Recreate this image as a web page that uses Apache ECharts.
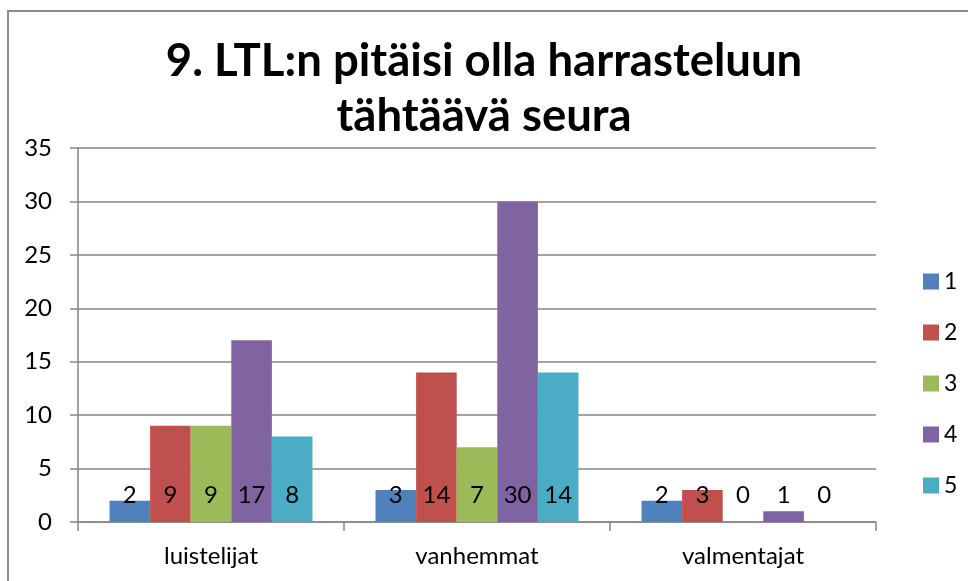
<!DOCTYPE html>
<html>
<head>
<meta charset="utf-8">
<script src="https://cdn.jsdelivr.net/npm/echarts@6/dist/echarts.min.js"></script>
<style>
    html, body { margin: 0; padding: 0; background: #fff; }
    #chart { width: 968px; height: 581px; }
</style>
</head>
<body>
<div id="chart"></div>
<script>
// kategoriat ja sarjat
var categories = ['luistelijat', 'vanhemmat', 'valmentajat'];
var seriesNames = ['1', '2', '3', '4', '5'];
var s1 = [2, 3, 2];
var s2 = [9, 14, 3];
var s3 = [9, 7, 0];
var s4 = [17, 30, 1];
var s5 = [8, 14, 0];
var yTicks = [0, 5, 10, 15, 20, 25, 30, 35];

var colors = ['#4F81BD', '#C0504D', '#9BBB59', '#8064A2', '#4BACC6'];
var font = 'Lato, "Open Sans", sans-serif';

var chart = echarts.init(document.getElementById('chart'));

function makeSeries(name, data) {
    return {
        name: name,
        type: 'bar',
        barGap: '0%',
        barCategoryGap: '23.7%',
        label: {
            show: true,
            position: 'insideBottom',
            distance: 15,
            color: '#000',
            fontSize: 24,
            lineHeight: 24,
            fontFamily: font
        },
        data: data
    };
}

var option = {
    color: colors,
    animation: false,
    title: {
        text: '9. LTL:n pitäisi olla harrasteluun\ntähtäävä seura',
        left: 'center',
        top: 29,
        padding: [5, 5, 5, 23],
        textStyle: {
            fontSize: 45.5,
            fontWeight: 'bold',
            fontFamily: font,
            color: '#000',
            lineHeight: 55
        }
    },
    legend: {
        orient: 'vertical',
        left: 918,
        top: 265,
        itemWidth: 16,
        itemHeight: 16,
        itemGap: 28,
        itemTextGap: 7,
        icon: 'rect',
        textStyle: { fontSize: 23, lineHeight: 20, color: '#000', fontFamily: font },
        data: seriesNames
    },
    grid: {
        left: 78,
        right: 92,
        top: 148,
        bottom: 59
    },
    xAxis: {
        type: 'category',
        data: categories,
        axisLine: { lineStyle: { color: '#868686', width: 1.5 } },
        axisTick: { show: true, length: 9, lineStyle: { color: '#868686', width: 1.5 } },
        axisLabel: { margin: 22, fontSize: 24, color: '#000', fontFamily: font }
    },
    yAxis: {
        type: 'value',
        min: yTicks[0],
        max: yTicks[yTicks.length - 1],
        interval: 5,
        axisLine: { show: true, lineStyle: { color: '#868686', width: 1.5 } },
        axisTick: { show: true, length: 8, lineStyle: { color: '#868686', width: 1.5 } },
        axisLabel: { margin: 26, fontSize: 24, color: '#000', fontFamily: font },
        splitLine: { lineStyle: { color: '#868686', width: 1.5 } }
    },
    graphic: [{
        type: 'rect',
        silent: true,
        shape: { x: 8, y: 11, width: 1200, height: 1200 },
        style: { fill: 'none', stroke: '#8c8c8c', lineWidth: 2 }
    }],
    series: [
        makeSeries(seriesNames[0], s1),
        makeSeries(seriesNames[1], s2),
        makeSeries(seriesNames[2], s3),
        makeSeries(seriesNames[3], s4),
        makeSeries(seriesNames[4], s5)
    ]
};

chart.setOption(option);
</script>
</body>
</html>
